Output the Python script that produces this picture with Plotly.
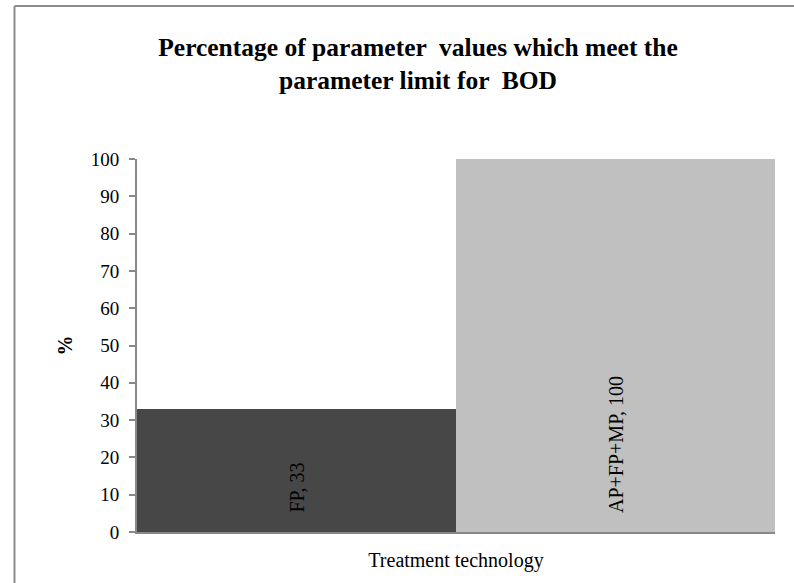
import plotly.graph_objects as go

categories = ["FP", "AP+FP+MP"]
values = [33, 100]
bar_colors = ["#474747", "#c0c0c0"]
y_ticks = list(range(0, 101, 10))

W, H = 794, 583
L, R, T, B = 137, 775, 159, 532

def px_x(x):
    return (x - L) / (R - L)

def px_y(y):
    return (B - y) / (B - T)

labels = [f"{c}, {v}" for c, v in zip(categories, values)]

fig = go.Figure(
    go.Bar(
        x=categories,
        y=values,
        marker=dict(color=bar_colors, line=dict(width=0)),
        hoverinfo="skip",
    )
)

for c, lab in zip(categories, labels):
    fig.add_annotation(
        x=c, y=0, xref="x", yref="y",
        text=lab, showarrow=False, textangle=-90,
        xanchor="center", yanchor="bottom", yshift=17,
        font=dict(family="Liberation Serif", size=20, color="black"),
    )

fig.update_layout(
    width=W,
    height=H,
    margin=dict(l=L, r=W - R, t=T, b=H - B),
    paper_bgcolor="white",
    plot_bgcolor="white",
    bargap=0,
    showlegend=False,
    font=dict(family="Liberation Serif", size=19, color="black"),
    title=dict(
        text="<b>Percentage of parameter  values which meet the<br>parameter limit for  BOD</b>",
        x=418 / W,
        xref="container",
        xanchor="center",
        y=1 - 55.5 / H,
        yref="container",
        yanchor="middle",
        font=dict(family="Liberation Serif", size=25.5, color="black"),
    ),
    xaxis=dict(
        showticklabels=False,
        showline=True,
        linecolor="#888888",
        linewidth=2,
        ticks="",
        showgrid=False,
        title=dict(text="Treatment technology", standoff=20,
                   font=dict(family="Liberation Serif", size=20)),
    ),
    yaxis=dict(
        range=[0, 100],
        tickvals=y_ticks,
        showline=True,
        linecolor="#888888",
        linewidth=2,
        ticks="outside",
        ticklen=6,
        tickwidth=1.5,
        tickcolor="#888888",
        ticklabelstandoff=6,
        showgrid=False,
        zeroline=False,
        tickfont=dict(family="Liberation Serif", size=19),
        title=dict(text="<b>%</b>", standoff=13,
                   font=dict(family="Liberation Serif", size=20)),
    ),
    shapes=[
        dict(type="line", xref="paper", yref="paper",
             x0=px_x(14.5), x1=px_x(14.5), y0=px_y(H + 10), y1=px_y(6),
             line=dict(color="#8c8c8c", width=2)),
        dict(type="line", xref="paper", yref="paper",
             x0=px_x(14.5), x1=px_x(W + 10), y0=px_y(6), y1=px_y(6),
             line=dict(color="#8c8c8c", width=2)),
    ],
)

fig.write_html(
    "out.html",
    config={"displayModeBar": False},
    post_script="document.body.style.margin='0';",
)
